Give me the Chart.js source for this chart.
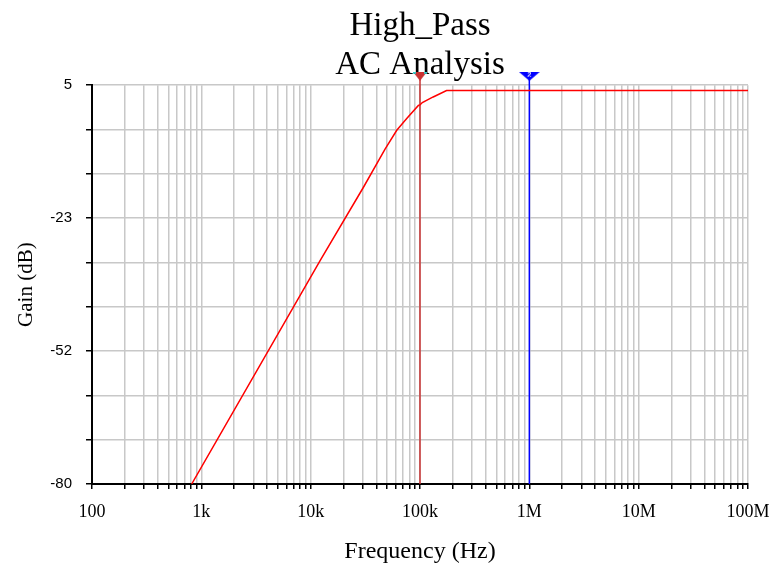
<!DOCTYPE html>
<html>
<head>
<meta charset="utf-8">
<script src="https://cdn.jsdelivr.net/npm/chart.js@4/dist/chart.umd.min.js"></script>
<style>
  html, body { margin: 0; padding: 0; background: #fff; }
  #wrap { width: 772px; height: 568px; }
</style>
</head>
<body>
<div id="wrap"><canvas id="plot" width="772" height="568"></canvas></div>
<script>
// --- data ---
const freqHz = [816, 12200, 30300, 47900, 61300, 75600, 96600, 100000, 105000, 132000, 175000, 100000000];
const gainDb = [-80, -32.4, -16.8, -8.6, -4.6, -2.1, 0.7, 0.8, 1.3, 2.5, 3.85, 3.85];
const cursorFreqs = [100000, 1000000];
const cursorColors = ['#c83232', '#0000ff'];
const cursorNames = ['1', '2'];
const xTickLabels = ['100', '1k', '10k', '100k', '1M', '10M', '100M'];
const yMin = -80, yMax = 5, yDivisions = 9;

const serif = "'Liberation Serif', 'DejaVu Serif', serif";
const sans = "'Liberation Sans', Arial, sans-serif";

// little downward cursor flags drawn on an offscreen canvas
function makeFlag(w, h, color, label, cornerColor) {
    const c = document.createElement('canvas');
    c.width = w; c.height = h;
    const g = c.getContext('2d');
    g.fillStyle = color;
    g.beginPath();
    g.moveTo(0, 0); g.lineTo(w, 0); g.lineTo(w / 2, h); g.closePath();
    g.fill();
    if (cornerColor) {
        g.fillStyle = cornerColor;
        g.fillRect(0, 0, 3, 2);
        g.fillRect(w - 3, 0, 3, 2);
    }
    if (label) {
        g.fillStyle = '#fff';
        g.font = "bold 7px 'Liberation Sans', sans-serif";
        g.textAlign = 'center';
        g.textBaseline = 'top';
        g.fillText(label, w / 2, 0);
    }
    return c;
}
const flags = [makeFlag(14, 9, cursorColors[0], '', '#33cccc'), makeFlag(21, 9, cursorColors[1], cursorNames[1])];

const curve = freqHz.map((f, i) => ({ x: f, y: gainDb[i] }));
const markerY = 6.9;

const datasets = [{
    data: curve,
    borderColor: '#ff0000',
    borderWidth: 1.5,
    pointRadius: 0,
    tension: 0
}];

cursorFreqs.forEach((f, i) => {
    datasets.push({
        data: [{ x: f, y: yMin }, { x: f, y: markerY }],
        borderColor: cursorColors[i],
        borderWidth: 1.5,
        pointRadius: 0,
        clip: false
    });
    datasets.push({
        data: [{ x: f, y: markerY }],
        showLine: false,
        pointStyle: flags[i],
        pointRadius: 12,
        pointHoverRadius: 12,
        clip: false
    });
});

new Chart(document.getElementById('plot').getContext('2d'), {
    type: 'line',
    data: { datasets: datasets },
    options: {
        responsive: false,
        animation: false,
        events: [],
        layout: { padding: { left: 0, right: 24, top: 0, bottom: 0 } },
        plugins: {
            legend: { display: false },
            tooltip: { enabled: false },
            title: {
                display: true,
                text: ['High_Pass', 'AC Analysis'],
                fullSize: false,
                color: '#000',
                font: { family: serif, size: 33, weight: 'normal', lineHeight: 1.17 },
                padding: { top: 7, bottom: 1 }
            }
        },
        scales: {
            x: {
                type: 'logarithmic',
                min: 100,
                max: 1e8,
                afterBuildTicks: (scale) => {
                    const ticks = [];
                    for (let e = 2; e < 8; e++) {
                        for (let m = 1; m < 10; m++) ticks.push({ value: m * Math.pow(10, e) });
                    }
                    ticks.push({ value: 1e8 });
                    scale.ticks = ticks;
                },
                afterFit: (scale) => {
                    scale.height = 84;
                    scale.paddingLeft = 0;
                    scale.paddingRight = 0;
                },
                ticks: {
                    autoSkip: false,
                    maxRotation: 0,
                    color: '#000',
                    padding: 12,
                    font: { family: serif, size: 18 },
                    callback: (value) => {
                        const e = Math.log10(value);
                        return Math.abs(e - Math.round(e)) < 1e-6 ? xTickLabels[Math.round(e) - 2] : '';
                    }
                },
                grid: {
                    color: '#c8c8c8',
                    lineWidth: 1.5,
                    tickColor: '#000',
                    tickLength: 5
                },
                border: { color: '#000', width: 2 },
                title: {
                    display: true,
                    text: 'Frequency (Hz)',
                    color: '#000',
                    font: { family: serif, size: 24 },
                    padding: { top: 0, bottom: 2 }
                }
            },
            y: {
                type: 'linear',
                min: yMin,
                max: yMax,
                afterBuildTicks: (scale) => {
                    const ticks = [];
                    for (let k = 0; k <= yDivisions; k++) ticks.push({ value: yMin + (yMax - yMin) * k / yDivisions });
                    scale.ticks = ticks;
                },
                afterFit: (scale) => { scale.width = 92; },
                ticks: {
                    autoSkip: false,
                    color: '#000',
                    padding: 14,
                    font: { family: sans, size: 15 },
                    callback: (value, index) => index % 3 === 0 ? String(Math.round(value)) : ''
                },
                grid: {
                    color: '#c8c8c8',
                    lineWidth: 1.5,
                    tickColor: '#000',
                    tickLength: 6
                },
                border: { color: '#000', width: 2 },
                title: {
                    display: true,
                    text: 'Gain (dB)',
                    color: '#000',
                    font: { family: serif, size: 21 },
                    padding: { top: 14, bottom: 0 }
                }
            }
        }
    }
});
</script>
</body>
</html>
